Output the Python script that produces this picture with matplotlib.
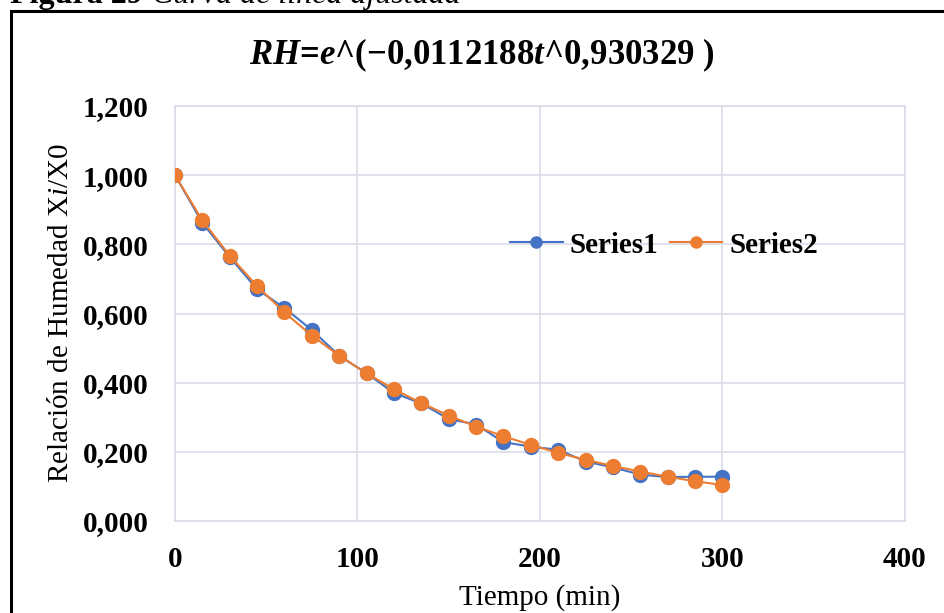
import matplotlib
matplotlib.use("Agg")
import matplotlib.pyplot as plt
from matplotlib.patches import Rectangle

tiempo = [0, 15, 30, 45, 60, 75, 90, 105, 120, 135, 150, 165, 180, 195, 210,
          225, 240, 255, 270, 285, 300]
series1 = [1.000, 0.862, 0.763, 0.670, 0.616, 0.552, 0.478, 0.427, 0.370, 0.340,
           0.295, 0.279, 0.228, 0.215, 0.206, 0.172, 0.155, 0.134, 0.127, 0.128, 0.128]
series2 = [1.000, 0.869, 0.767, 0.679, 0.603, 0.536, 0.478, 0.427, 0.381, 0.341,
           0.305, 0.273, 0.245, 0.220, 0.197, 0.177, 0.159, 0.143, 0.128, 0.115, 0.104]
x_ticks = [0, 100, 200, 300, 400]
y_ticks = [0.0, 0.2, 0.4, 0.6, 0.8, 1.0, 1.2]
y_tick_labels = ["0,000", "0,200", "0,400", "0,600", "0,800", "1,000", "1,200"]
series_names = ["Series1", "Series2"]

plt.rcParams['font.family'] = ['Liberation Serif', 'DejaVu Serif']
plt.rcParams['mathtext.fontset'] = 'custom'
plt.rcParams['mathtext.rm'] = 'Liberation Serif:bold'
plt.rcParams['mathtext.it'] = 'Liberation Serif:bold:italic'
plt.rcParams['mathtext.bf'] = 'Liberation Serif:bold'
plt.rcParams['mathtext.sf'] = 'Liberation Serif:italic'

W, H = 945, 613
fig = plt.figure(figsize=(W / 100, H / 100), dpi=100)

# outer chart border
fig.patches.append(Rectangle((11 / W, -0.05), (W + 20) / W, (H - 11) / H + 0.05,
                             transform=fig.transFigure, fill=False,
                             edgecolor='black', linewidth=2.2, zorder=0))

# caption (cut off at top, as in the reference)
fig.text(143 / W, 1 - 3 / H, "Figura 29", fontsize=23, fontweight='bold',
         va='baseline', ha='right')
fig.text(152 / W, 1 - 3 / H, "Curva de línea ajustada", fontsize=23,
         fontstyle='italic', va='baseline', ha='left')

ax = fig.add_axes([175 / W, (H - 521) / H, (905 - 175) / W, (521 - 106) / H])

blue = '#4472C4'
orange = '#ED7D31'
ax.plot(tiempo, series1, color=blue, marker='o', markersize=10, linewidth=1.5,
        label=series_names[0], zorder=3)
ax.plot(tiempo, series2, color=orange, marker='o', markersize=10, linewidth=1.5,
        label=series_names[1], zorder=4)

ax.set_xlim(0, 400)
ax.set_ylim(0, 1.2)
ax.set_xticks(x_ticks)
ax.set_xticklabels([str(v) for v in x_ticks])
ax.set_yticks(y_ticks)
ax.set_yticklabels(y_tick_labels)
ax.grid(True, color='#d9dde6', linewidth=1.2, zorder=0)
ax.set_axisbelow(True)
for s in ax.spines.values():
    s.set_color('#d9dde6')
    s.set_linewidth(1.2)
ax.tick_params(length=0, labelsize=21)
for lbl in ax.get_xticklabels() + ax.get_yticklabels():
    lbl.set_fontweight('bold')
ax.tick_params(axis='x', pad=18)
ax.tick_params(axis='y', pad=19)

ax.set_xlabel("Tiempo (min)", fontsize=21, labelpad=8)
ax.set_ylabel(r"Relación de Humedad X$\mathsf{i}$/X0", fontsize=21, labelpad=6)

fig.text(482 / W, 1 - 55 / H,
         r"$RH$=$e$^(−0,0112188$t$^0,930329 )", fontsize=25, fontweight='bold',
         ha='center', va='center')

leg = ax.legend(loc='center', bbox_to_anchor=(0.67, 0.665), ncol=2, frameon=False,
                prop={'family': 'Liberation Serif', 'weight': 'bold', 'size': 21},
                handlelength=1.8, handletextpad=0.25, columnspacing=0.38,
                markerscale=0.8)

fig.savefig("out.png", dpi=100)
